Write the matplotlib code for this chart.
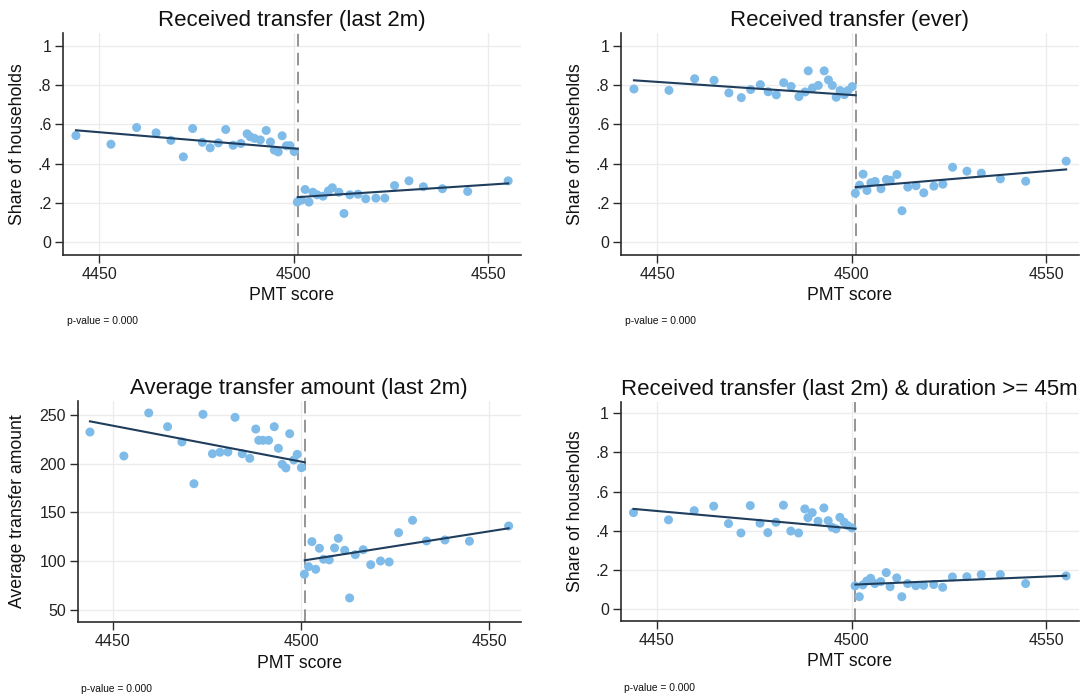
import matplotlib
matplotlib.use("Agg")
import matplotlib.pyplot as plt
from matplotlib.ticker import FixedLocator, FixedFormatter

plt.rcParams['font.family'] = ['Liberation Sans', 'DejaVu Sans']

# ---------------- data ----------------
cutoff = 4501
x_left = [4444.0, 4453.0, 4459.6, 4464.6, 4468.4, 4471.6, 4474.0, 4476.5, 4478.5,
          4480.6, 4482.5, 4484.4, 4486.4, 4488.0, 4488.8, 4489.9, 4491.4, 4492.9,
          4494.0, 4495.0, 4496.0, 4497.0, 4498.1, 4499.0, 4500.1]
x_right = [4500.9, 4502.0, 4502.9, 4503.9, 4504.9, 4506.0, 4507.5, 4508.9, 4509.9,
           4511.6, 4512.9, 4514.4, 4516.5, 4518.5, 4521.1, 4523.4, 4525.9, 4529.6,
           4533.3, 4538.2, 4544.7, 4555.1]
fit_x_left = [4444.0, 4501.0]
fit_x_right = [4501.0, 4555.1]

# Panel 1: Received transfer (last 2m)
p1_left = [0.543, 0.499, 0.584, 0.557, 0.519, 0.435, 0.579, 0.509, 0.481, 0.506,
           0.574, 0.494, 0.503, 0.552, 0.537, 0.529, 0.521, 0.569, 0.511, 0.469,
           0.460, 0.542, 0.491, 0.492, 0.462]
p1_right = [0.205, 0.215, 0.269, 0.205, 0.255, 0.242, 0.235, 0.262, 0.278, 0.255,
            0.147, 0.242, 0.245, 0.222, 0.225, 0.225, 0.289, 0.313, 0.283, 0.273,
            0.259, 0.313]
p1_fit_left = [0.570, 0.476]
p1_fit_right = [0.230, 0.300]

# Panel 2: Received transfer (ever)
p2_left = [0.780, 0.773, 0.832, 0.824, 0.760, 0.736, 0.777, 0.802, 0.766, 0.750,
           0.812, 0.793, 0.741, 0.765, 0.872, 0.785, 0.798, 0.872, 0.826, 0.798,
           0.738, 0.772, 0.751, 0.772, 0.792]
p2_right = [0.250, 0.291, 0.347, 0.264, 0.303, 0.310, 0.273, 0.320, 0.316, 0.345,
            0.161, 0.281, 0.288, 0.252, 0.286, 0.296, 0.382, 0.362, 0.352, 0.323,
            0.311, 0.413]
p2_fit_left = [0.824, 0.748]
p2_fit_right = [0.281, 0.371]

# Panel 3: Average transfer amount (last 2m)
p3_left = [232.5, 207.9, 252.1, 238.0, 222.3, 179.4, 250.7, 210.2, 211.7, 212.0,
           247.6, 210.2, 205.5, 235.6, 224.0, 224.0, 224.0, 238.0, 215.8, 199.4,
           195.6, 230.8, 203.8, 209.6, 195.9]
p3_right = [86.4, 94.2, 119.9, 91.5, 113.1, 101.8, 101.1, 113.4, 123.3, 111.0,
            62.0, 106.5, 111.6, 96.2, 100.0, 99.0, 129.1, 141.8, 120.6, 121.6,
            120.3, 136.0]
p3_fit_left = [243.5, 201.4]
p3_fit_right = [100.7, 133.6]

# Panel 4: Received transfer (last 2m) & duration >= 45m
p4_left = [0.493, 0.456, 0.503, 0.526, 0.437, 0.389, 0.529, 0.439, 0.391, 0.444,
           0.531, 0.399, 0.389, 0.512, 0.467, 0.493, 0.449, 0.517, 0.452, 0.418,
           0.410, 0.469, 0.444, 0.427, 0.415]
p4_right = [0.119, 0.064, 0.124, 0.144, 0.158, 0.131, 0.141, 0.187, 0.115, 0.160,
            0.064, 0.131, 0.120, 0.122, 0.126, 0.112, 0.165, 0.166, 0.177, 0.177,
            0.131, 0.170]
p4_fit_left = [0.512, 0.411]
p4_fit_right = [0.126, 0.171]

titles = ["Received transfer (last 2m)", "Received transfer (ever)",
          "Average transfer amount (last 2m)",
          "Received transfer (last 2m) & duration >= 45m"]
ylabels = ["Share of households", "Share of households",
           "Average transfer amount", "Share of households"]
xlabel = "PMT score"
pvalue_text = "p-value = 0.000"
x_ticks = [4450, 4500, 4550]
share_ticks = [0, 0.2, 0.4, 0.6, 0.8, 1.0]
share_labels = ["0", ".2", ".4", ".6", ".8", "1"]
amount_ticks = [50, 100, 150, 200, 250]
amount_labels = ["50", "100", "150", "200", "250"]

# ---------------- styling ----------------
W, H = 1083, 700
fig = plt.figure(figsize=(W / 100, H / 100), dpi=100)

MARK = '#7fbbe8'
LINE = '#1f3d5c'
GRID = '#ececec'
SPINE = '#2b2b2b'

# axes rects in pixels: left, top, right, bottom
rects = [
    (63.3, 33.3, 520.6, 254.8),
    (621.3, 33.3, 1078.6, 254.8),
    (77.7, 400.7, 520.7, 622.3),
    (620.8, 401.7, 1078.6, 621.0),
]
ylims = [(-0.063, 1.063), (-0.063, 1.063), (37.0, 264.7), (-0.06, 1.059)]
panels = [
    (p1_left, p1_right, p1_fit_left, p1_fit_right),
    (p2_left, p2_right, p2_fit_left, p2_fit_right),
    (p3_left, p3_right, p3_fit_left, p3_fit_right),
    (p4_left, p4_right, p4_fit_left, p4_fit_right),
]
ylabel_offsets = [-37, -37, -52, -37]

for i, (rect, ylim, data) in enumerate(zip(rects, ylims, panels)):
    l, t, r, b = rect
    ax = fig.add_axes([l / W, 1 - b / H, (r - l) / W, (b - t) / H])
    yl, yr, fl, fr = data
    ax.set_xlim(4440.75, 4558.3)
    ax.set_ylim(*ylim)

    ax.axvline(cutoff, color='#8c8c8c', lw=1.3, dashes=(7, 3.5), zorder=1)
    ax.scatter(x_left, yl, s=42, color=MARK, edgecolors='none', zorder=2)
    ax.scatter(x_right, yr, s=42, color=MARK, edgecolors='none', zorder=2)
    ax.plot(fit_x_left, fl, color=LINE, lw=1.5, zorder=3)
    ax.plot(fit_x_right, fr, color=LINE, lw=1.5, zorder=3)

    ax.xaxis.set_major_locator(FixedLocator(x_ticks))
    if i == 2:
        ax.yaxis.set_major_locator(FixedLocator(amount_ticks))
        ax.yaxis.set_major_formatter(FixedFormatter(amount_labels))
    else:
        ax.yaxis.set_major_locator(FixedLocator(share_ticks))
        ax.yaxis.set_major_formatter(FixedFormatter(share_labels))

    ax.grid(True, color=GRID, lw=1.0, zorder=0)
    ax.set_axisbelow(True)
    for s in ['top', 'right']:
        ax.spines[s].set_visible(False)
    for s in ['left', 'bottom']:
        ax.spines[s].set_color(SPINE)
        ax.spines[s].set_linewidth(1.2)
    ax.tick_params(axis='both', direction='out', length=6, width=1.0,
                   color=SPINE, labelsize=11.5, labelcolor='#222222', pad=2.5)

    ax.set_title(titles[i], fontsize=16, pad=5, color='#111111')
    ax.set_xlabel(xlabel, fontsize=12.7, labelpad=4, color='#111111')
    ax.set_ylabel(ylabels[i], fontsize=12.7, color='#111111')
    ax.yaxis.set_label_coords(ylabel_offsets[i] / (r - l), 0.5)

    ax.annotate(pvalue_text, xy=(0, 0), xycoords='axes fraction',
                xytext=(2.4, -48), textcoords='offset points',
                ha='left', va='center', fontsize=7.4, color='#111111')

fig.savefig('out.png', dpi=100)
